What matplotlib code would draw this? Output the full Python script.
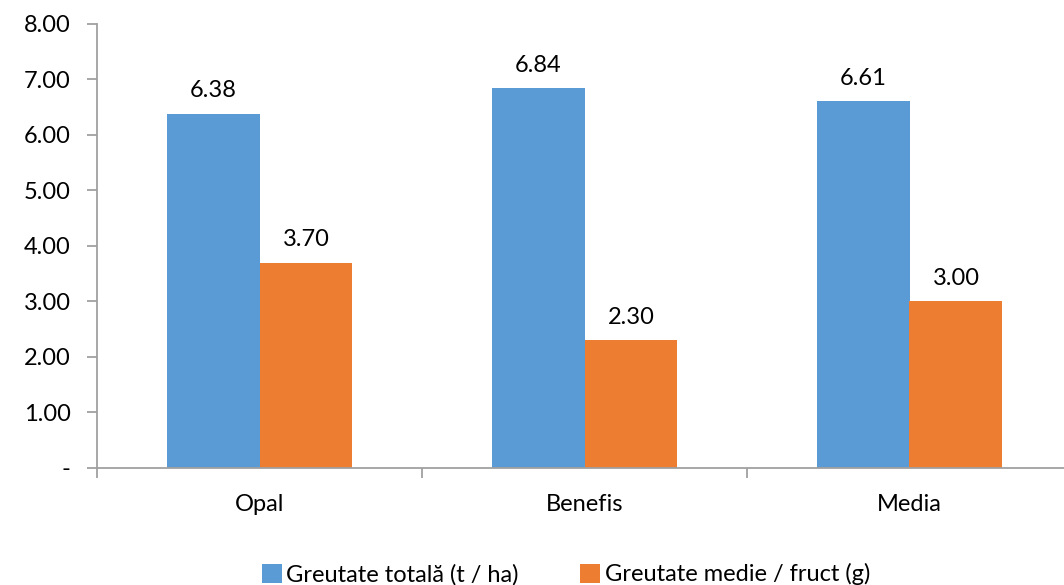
import matplotlib.pyplot as plt
import numpy as np
from matplotlib.ticker import FuncFormatter

CATEGORIES = ['Opal', 'Benefis', 'Media']
TOTAL_WEIGHT = [6.38, 6.84, 6.61]   # t / ha
MEAN_WEIGHT = [3.70, 2.30, 3.00]    # g / fruct
SERIES_NAMES = ['Greutate totală (t / ha)', 'Greutate medie / fruct (g)']

BLUE = '#5B9BD5'
ORANGE = '#ED7D31'
AXIS_GREY = '#A0A0A0'
FS = 17

plt.rcParams['font.family'] = ['Lato', 'DejaVu Sans']


def fmt_y(v, pos):
    return '-' if abs(v) < 1e-9 else f'{v:.2f}'


def main():
    fig = plt.figure(figsize=(10.64, 5.85), dpi=100)
    ax = fig.add_axes([97 / 1064, 0.2, 975 / 1064, 0.759])

    x = np.arange(len(CATEGORIES))
    w = 0.286
    b1 = ax.bar(x - w / 2, TOTAL_WEIGHT, w, color=BLUE, label=SERIES_NAMES[0])
    b2 = ax.bar(x + w / 2, MEAN_WEIGHT, w, color=ORANGE, label=SERIES_NAMES[1])

    for bars, vals in ((b1, TOTAL_WEIGHT), (b2, MEAN_WEIGHT)):
        for bar, v in zip(bars, vals):
            ax.annotate(f'{v:.2f}', (bar.get_x() + bar.get_width() / 2, v),
                        xytext=(0, 9), textcoords='offset points',
                        ha='center', va='bottom', fontsize=FS)

    ax.set_xlim(-0.5, 2.5)
    ax.set_ylim(0, 8)
    ax.set_yticks(np.arange(0, 9, 1))
    ax.yaxis.set_major_formatter(FuncFormatter(fmt_y))

    # category labels centred, ticks on the boundaries
    ax.set_xticks(x)
    ax.set_xticklabels(CATEGORIES, fontsize=FS)
    ax.tick_params(axis='x', which='major', length=0, pad=19)
    ax.set_xticks([-0.5, 0.5, 1.5], minor=True)
    ax.tick_params(axis='x', which='minor', length=7, width=1.3, color=AXIS_GREY)
    ax.tick_params(axis='y', length=7, width=1.3, color=AXIS_GREY, labelsize=FS, pad=12)

    for s in ('top', 'right'):
        ax.spines[s].set_visible(False)
    for s in ('left', 'bottom'):
        ax.spines[s].set_color(AXIS_GREY)
        ax.spines[s].set_linewidth(1.3)

    ax.legend(loc='lower center', bbox_to_anchor=(0.481, -0.312), ncol=2,
              frameon=False, fontsize=FS, handlelength=0.85, handleheight=0.85,
              handletextpad=0.2, columnspacing=2.6)

    fig.savefig('out.png', dpi=100)


if __name__ == '__main__':
    main()
